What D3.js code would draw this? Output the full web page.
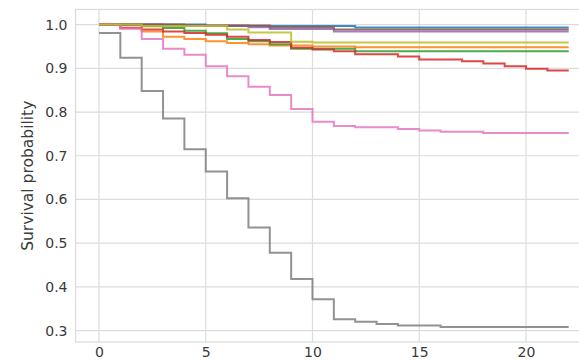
<!DOCTYPE html>
<html>
<head>
<meta charset="utf-8">
<script src="https://cdn.jsdelivr.net/npm/d3@7"></script>
<style>
  html, body { margin: 0; padding: 0; background: #fff; }
  svg { display: block; }
  text { font-family: "DejaVu Sans", sans-serif; }
</style>
</head>
<body>
<script>
// Kaplan-Meier survival curves, one step line per group
const timeTicks = [0, 5, 10, 15, 20];
const probTicks = [0.3, 0.4, 0.5, 0.6, 0.7, 0.8, 0.9, 1.0];
const endTime = 22;
const yLabel = "Survival probability";

const curveColors = ["#1f77b4", "#ff7f0e", "#2ca02c", "#d62728", "#9467bd",
                     "#8c564b", "#e377c2", "#7f7f7f", "#bcbd22"];

// times at which each curve steps, and the survival value from that time on
const curveTimes = [
  [0, 5, 12],
  [0, 1, 2, 3, 4, 5, 6, 7, 8, 10, 12],
  [0, 2, 3, 4, 5, 6, 7, 8, 9, 12],
  [0, 1, 2, 3, 4, 5, 6, 7, 8, 9, 10, 11, 12, 14, 15, 17, 18, 19, 20, 21],
  [0, 3, 7, 8, 11],
  [0, 4, 8, 11],
  [0, 1, 2, 3, 4, 5, 6, 7, 8, 9, 10, 11, 12, 14, 15, 16, 18],
  [0, 1, 2, 3, 4, 5, 6, 7, 8, 9, 10, 11, 12, 13, 14, 16],
  [0, 2, 6, 7, 9, 10]
];
const curveSurvival = [
  [1.0, 0.997, 0.9935],
  [1.0, 0.991, 0.984, 0.972, 0.967, 0.962, 0.958, 0.955, 0.952, 0.950, 0.948],
  [1.0, 0.996, 0.992, 0.986, 0.980, 0.967, 0.962, 0.955, 0.945, 0.939],
  [1.0, 0.993, 0.989, 0.984, 0.981, 0.977, 0.972, 0.965, 0.960, 0.947, 0.943,
   0.939, 0.932, 0.927, 0.920, 0.916, 0.911, 0.905, 0.899, 0.895],
  [1.0, 0.998, 0.994, 0.990, 0.9845],
  [1.0, 0.998, 0.994, 0.989],
  [1.0, 0.991, 0.967, 0.945, 0.931, 0.905, 0.882, 0.858, 0.839, 0.807, 0.778,
   0.768, 0.765, 0.761, 0.758, 0.755, 0.752],
  [0.981, 0.924, 0.848, 0.785, 0.715, 0.664, 0.603, 0.536, 0.478, 0.418, 0.372,
   0.326, 0.320, 0.315, 0.3115, 0.3085],
  [1.0, 0.997, 0.989, 0.982, 0.961, 0.959]
];

const W = 579, H = 361;
const plot = { left: 75.5, top: 9.5, width: 516.7, height: 332.5 };

// matplotlib-style 5% margins around the data extent
const allS = curveSurvival.flat();
const sMin = d3.min(allS), sMax = d3.max(allS);
const sPad = (sMax - sMin) * 0.05;
const tPad = endTime * 0.05;

const x = d3.scaleLinear().domain([-tPad, endTime + tPad])
  .range([plot.left, plot.left + plot.width]);
const y = d3.scaleLinear().domain([sMin - sPad, sMax + sPad])
  .range([plot.top + plot.height, plot.top]);

const svg = d3.select("body").append("svg").attr("width", W).attr("height", H);

svg.append("defs").append("clipPath").attr("id", "plot-clip")
  .append("rect").attr("x", plot.left).attr("y", plot.top)
  .attr("width", plot.width).attr("height", plot.height);

const gridColor = "#dcdcdc";

// grid
const grid = svg.append("g");
grid.selectAll("line.gx").data(timeTicks).join("line")
  .attr("x1", d => x(d)).attr("x2", d => x(d))
  .attr("y1", plot.top).attr("y2", plot.top + plot.height)
  .attr("stroke", gridColor).attr("stroke-width", 1.2);
grid.selectAll("line.gy").data(probTicks).join("line")
  .attr("x1", plot.left).attr("x2", plot.left + plot.width)
  .attr("y1", d => y(d)).attr("y2", d => y(d))
  .attr("stroke", gridColor).attr("stroke-width", 1.2);

// frame
svg.append("rect").attr("x", plot.left).attr("y", plot.top)
  .attr("width", plot.width).attr("height", plot.height)
  .attr("fill", "none").attr("stroke", gridColor).attr("stroke-width", 1.3);

// axes (tick labels only, seaborn whitegrid look)
const xAxis = d3.axisBottom(x).tickValues(timeTicks).tickSize(0).tickPadding(5)
  .tickFormat(d3.format("d"));
const gx = svg.append("g").attr("transform", `translate(0,${plot.top + plot.height})`).call(xAxis);
const yAxis = d3.axisLeft(y).tickValues(probTicks).tickSize(0).tickPadding(8)
  .tickFormat(d3.format(".1f"));
const gy = svg.append("g").attr("transform", `translate(${plot.left},0)`).call(yAxis);
[gx, gy].forEach(g => {
  g.select(".domain").remove();
  g.selectAll("text").attr("fill", "#3a3a3a").style("font-size", "14px")
    .style("font-family", "'DejaVu Sans', sans-serif");
});

svg.append("text")
  .attr("transform", `translate(32.5,${plot.top + plot.height / 2}) rotate(-90)`)
  .attr("text-anchor", "middle")
  .attr("fill", "#3a3a3a").style("font-size", "15.5px")
  .text(yLabel);

// survival step curves
const line = d3.line().curve(d3.curveStepAfter)
  .x(d => x(d[0])).y(d => y(d[1]));

const curves = svg.append("g").attr("clip-path", "url(#plot-clip)");
curveTimes.forEach((times, i) => {
  const surv = curveSurvival[i];
  const pts = times.map((t, j) => [t, surv[j]]);
  pts.push([endTime, surv[surv.length - 1]]);
  curves.append("path").datum(pts)
    .attr("d", line)
    .attr("fill", "none")
    .attr("stroke", curveColors[i])
    .attr("stroke-width", 2)
    .attr("stroke-opacity", 0.85);
});
</script>
</body>
</html>
